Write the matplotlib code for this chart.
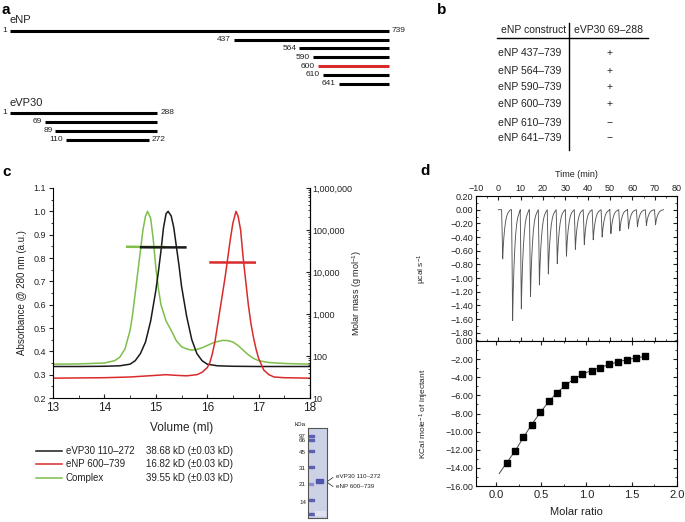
import matplotlib
matplotlib.use('Agg')
import matplotlib.pyplot as plt
from matplotlib.ticker import MultipleLocator, FuncFormatter, LogLocator, NullFormatter
from matplotlib.patches import Rectangle

plt.rcParams['font.family'] = ['Liberation Sans', 'DejaVu Sans']
plt.rcParams['mathtext.fontset'] = 'custom'
plt.rcParams['mathtext.rm'] = 'Liberation Sans'
plt.rcParams['mathtext.it'] = 'Liberation Sans:italic'
plt.rcParams['mathtext.bf'] = 'Liberation Sans:bold'

W, H = 685, 522
TXT = '#222222'
GREEN = '#7dbf4a'
RED = '#d92b2b'
BLACK = '#1a1a1a'

# ---- a: construct boundaries
enp_starts = [1, 437, 564, 590, 600, 610, 641]
enp_end = 739
evp_starts = [1, 69, 89, 110]
evp_ends = [288, 288, 288, 272]

# ---- b: binding table
b_constructs = ['eNP 437–739', 'eNP 564–739', 'eNP 590–739',
                'eNP 600–739', 'eNP 610–739', 'eNP 641–739']
b_binding = ['+', '+', '+', '+', '−', '−']

# ---- c: SEC-MALS traces (volume ml, absorbance)
black_vol = [13.0, 13.5, 14.0, 14.3, 14.5, 14.6, 14.7, 14.8, 14.9, 15.0, 15.05, 15.1,
             15.15, 15.2, 15.24, 15.3, 15.35, 15.4, 15.45, 15.5, 15.6, 15.7, 15.8,
             15.9, 16.0, 16.2, 16.5, 17.0, 18.0]
black_abs = [0.335, 0.335, 0.336, 0.338, 0.345, 0.36, 0.39, 0.44, 0.53, 0.66, 0.74, 0.83,
             0.93, 0.99, 1.0, 0.98, 0.93, 0.85, 0.77, 0.68, 0.55, 0.45, 0.39,
             0.36, 0.345, 0.338, 0.336, 0.335, 0.335]
green_vol = [13.0, 13.5, 14.0, 14.2, 14.3, 14.4, 14.5, 14.55, 14.6, 14.65, 14.7, 14.75,
             14.8, 14.84, 14.9, 14.95, 15.0, 15.05, 15.1, 15.2, 15.3, 15.4, 15.5, 15.6,
             15.7, 15.8, 15.9, 16.0, 16.1, 16.2, 16.3, 16.4, 16.5, 16.6, 16.7, 16.8,
             16.9, 17.0, 17.2, 17.5, 18.0]
green_abs = [0.345, 0.346, 0.35, 0.36, 0.375, 0.41, 0.49, 0.56, 0.65, 0.74, 0.83, 0.92,
             0.98, 1.0, 0.97, 0.88, 0.76, 0.67, 0.6, 0.53, 0.49, 0.445, 0.42, 0.41,
             0.405, 0.408, 0.415, 0.425, 0.435, 0.442, 0.447, 0.446, 0.44, 0.425, 0.405,
             0.385, 0.37, 0.36, 0.352, 0.348, 0.345]
red_vol = [13.0, 14.0, 14.5, 15.0, 15.2, 15.4, 15.6, 15.8, 15.9, 16.0, 16.05, 16.1,
           16.15, 16.2, 16.25, 16.3, 16.35, 16.4, 16.45, 16.5, 16.56, 16.6, 16.65,
           16.7, 16.75, 16.8, 16.85, 16.9, 16.95, 17.0, 17.1, 17.2, 17.3, 17.5, 18.0]
red_abs = [0.285, 0.287, 0.29, 0.297, 0.30, 0.297, 0.295, 0.30, 0.31, 0.33, 0.35, 0.39,
           0.44, 0.51, 0.58, 0.65, 0.72, 0.80, 0.88, 0.95, 1.0, 0.98, 0.92,
           0.80, 0.70, 0.60, 0.52, 0.46, 0.41, 0.37, 0.32, 0.30, 0.29, 0.287, 0.285]

# molar mass across peaks (g/mol)
green_mm_vol = [14.42, 14.6, 14.8, 15.0, 15.18]
green_mm = [39900, 39700, 39550, 39450, 39300]
black_mm_vol = [14.69, 14.9, 15.1, 15.3, 15.6]
black_mm = [38900, 38750, 38680, 38600, 38500]
red_mm_vol = [16.04, 16.3, 16.55, 16.75, 16.95]
red_mm = [16900, 16850, 16820, 16800, 16750]

c_legend = ['eVP30 110–272', 'eNP 600–739', 'Complex']
c_masses = ['38.68 kD (±0.03 kD)', '16.82 kD (±0.03 kD)', '39.55 kD (±0.03 kD)']
gel_kda = ['97', '66', '45', '31', '21', '14']

# ---- d: ITC
itc_times = [1.95, 6.4, 10.3, 14.4, 18.4, 22.4, 26.4, 30.5, 34.5, 38.5, 42.5, 46.5,
             50.4, 54.4, 58.3, 62.3, 66.3, 70.4]
itc_depths = [-0.72, -1.62, -1.45, -1.27, -1.10, -0.94, -0.79, -0.68, -0.58, -0.51,
              -0.44, -0.40, -0.35, -0.31, -0.28, -0.25, -0.23, -0.22]
peak_dt = [-0.5, -0.25, 0.0, 0.25, 0.55, 0.9, 1.3, 1.8, 2.3, 2.9, 3.5]
peak_shape = [0.0, 0.45, 1.0, 0.75, 0.55, 0.38, 0.24, 0.13, 0.07, 0.03, 0.0]

ratio = [0.118, 0.214, 0.303, 0.396, 0.489, 0.581, 0.670, 0.766, 0.859, 0.956, 1.056,
         1.148, 1.248, 1.348, 1.448, 1.548, 1.648]
heat = [-13.41, -12.12, -10.61, -9.25, -7.85, -6.67, -5.78, -4.90, -4.20, -3.65, -3.28,
        -2.98, -2.58, -2.29, -2.06, -1.88, -1.69]
fit_ratio = [0.037, 0.118, 0.214, 0.303, 0.396, 0.489, 0.581, 0.670, 0.766, 0.859, 0.956,
             1.056, 1.148, 1.248, 1.348, 1.448, 1.548, 1.648]
fit_heat = [-14.62, -13.45, -12.1, -10.65, -9.2, -7.9, -6.72, -5.75, -4.9, -4.2, -3.66,
            -3.25, -2.93, -2.6, -2.3, -2.06, -1.86, -1.70]


def box(l, t, r, b):
    return [l / W, 1 - b / H, (r - l) / W, (b - t) / H]


def fmt2(v, pos=None):
    v = round(v, 2)
    if v == 0:
        v = 0.0
    return f'{v:.2f}'.replace('-', '−')


fig = plt.figure(figsize=(W / 100, H / 100), dpi=100)

# overlay for free text
ov = fig.add_axes([0, 0, 1, 1], zorder=5)
ov.set_xlim(0, W)
ov.set_ylim(H, 0)
ov.axis('off')
ov.patch.set_alpha(0)

for lab, x, y in [('a', 2, 10), ('b', 437, 10), ('c', 2, 172), ('d', 420, 171)]:
    ov.text(x, y, lab, fontsize=11, fontweight='bold', va='center', ha='left', color='black')

# ---------------- panel a
ax_a = fig.add_axes(box(0, 0, 420, 160))
ax_a.set_xlim(1 - 10 / 0.5136, 1 + 410 / 0.5136)
ax_a.set_ylim(160, 0)
ax_a.axis('off')
ax_a.text(1, 20, 'eNP', fontsize=8, va='center', color=TXT)
for i, s in enumerate(enp_starts):
    y = 30.7 + i * 8.85
    col = RED if s == 600 else 'black'
    ax_a.plot([s, enp_end], [y, y], color=col, lw=2.2, solid_capstyle='butt')
    ax_a.annotate(str(s), (s, y), xytext=(-2, 0), textcoords='offset points',
                  ha='right', va='center', fontsize=6, color=TXT)
    if s == 1:
        ax_a.annotate(str(enp_end), (enp_end, y), xytext=(2, 0), textcoords='offset points',
                      ha='left', va='center', fontsize=6, color=TXT)
ax_a.text(1, 103, 'eVP30', fontsize=8, va='center', color=TXT)
for i, (s, e) in enumerate(zip(evp_starts, evp_ends)):
    y = 113 + i * 9.0
    ax_a.plot([s, e], [y, y], color='black', lw=2.2, solid_capstyle='butt')
    ax_a.annotate(str(s), (s, y), xytext=(-2, 0), textcoords='offset points',
                  ha='right', va='center', fontsize=6, color=TXT)
    if s in (1, 110):
        ax_a.annotate(str(e), (e, y), xytext=(2, 0), textcoords='offset points',
                      ha='left', va='center', fontsize=6, color=TXT)

# ---------------- panel b
ov.text(566, 30, 'eNP construct', fontsize=7.5, ha='right', va='center', color=TXT)
ov.text(574, 30, 'eVP30 69–288', fontsize=7.5, ha='left', va='center', color=TXT)
ov.plot([497, 648], [37.5, 37.5], color='black', lw=1.0)
ov.plot([569, 569], [23, 150], color='black', lw=1.0)
for name, bind, y in zip(b_constructs, b_binding, [53, 71, 87, 104, 123, 138]):
    ov.text(498, y, name, fontsize=7.5, ha='left', va='center', color=TXT)
    ov.text(610, y, bind, fontsize=7.5, ha='center', va='center', color=TXT)

# ---------------- panel c
ax_c = fig.add_axes(box(53, 188, 310, 398))
ax_c.plot(green_vol, green_abs, color=GREEN, lw=1.1)
ax_c.plot(black_vol, black_abs, color=BLACK, lw=1.1)
ax_c.plot(red_vol, red_abs, color=RED, lw=1.1)
ax_c.set_xlim(13, 18)
ax_c.set_ylim(0.2, 1.1)
ax_c.spines['top'].set_visible(False)
for sp in ax_c.spines.values():
    sp.set_linewidth(0.8)
ax_c.yaxis.set_major_locator(MultipleLocator(0.1))
ax_c.yaxis.set_minor_locator(MultipleLocator(0.05))
ax_c.yaxis.set_major_formatter(FuncFormatter(lambda v, p: f'{v:.1f}'))
ax_c.xaxis.set_major_locator(MultipleLocator(1))
ax_c.xaxis.set_minor_locator(MultipleLocator(0.5))
ax_c.tick_params(axis='y', which='both', direction='out', labelsize=6.5, pad=2, colors=TXT)
ax_c.tick_params(axis='y', which='major', length=3)
ax_c.tick_params(axis='y', which='minor', length=1.5)
ax_c.tick_params(axis='x', which='both', direction='in', labelsize=8.5, pad=3, colors=TXT)
ax_c.tick_params(axis='x', which='major', length=3)
ax_c.tick_params(axis='x', which='minor', length=2.5)
ax_c.set_xlabel('Volume (ml)', fontsize=8.5, color=TXT)
ax_c.xaxis.set_label_coords(0.5, -(422 - 398) / 210)
ax_c.set_ylabel('Absorbance @ 280 nm (a.u.)', fontsize=7, color=TXT)
ax_c.yaxis.set_label_coords(-(53 - 27) / 257, 0.5)

ax_r = ax_c.twinx()
ax_r.set_yscale('log')
ax_r.set_ylim(10, 1e6)
ax_r.plot(green_mm_vol, green_mm, color=GREEN, lw=1.8, solid_capstyle='butt')
ax_r.plot(black_mm_vol, black_mm, color=BLACK, lw=1.8, solid_capstyle='butt')
ax_r.plot(red_mm_vol, red_mm, color=RED, lw=1.8, solid_capstyle='butt')
for k in ['top', 'left', 'bottom']:
    ax_r.spines[k].set_visible(False)
ax_r.spines['right'].set_linewidth(0.8)
ax_r.yaxis.set_major_locator(LogLocator(base=10, numticks=10))
ax_r.yaxis.set_minor_locator(LogLocator(base=10, subs=range(2, 10), numticks=20))
ax_r.yaxis.set_minor_formatter(NullFormatter())
ax_r.yaxis.set_major_formatter(FuncFormatter(lambda v, p: f'{int(round(v)):,}'))
ax_r.tick_params(axis='y', which='both', direction='in', labelsize=6.5, pad=2, colors=TXT)
ax_r.tick_params(axis='y', which='major', length=3)
ax_r.tick_params(axis='y', which='minor', length=1.5)
ax_r.set_ylabel('Molar mass (g mol$^{-1}$)', fontsize=6.5, color=TXT)
ax_r.yaxis.set_label_coords((350 - 53) / 257, 0.5)

# legend for c
for lab, mass, col, y in zip(c_legend, c_masses, [BLACK, RED, GREEN], [451, 464, 478]):
    ov.plot([36, 62], [y, y], color=col, lw=1.1)
    ov.text(66, y, lab, fontsize=7, va='center', ha='left', color=TXT)
    ov.text(146, y, mass, fontsize=7, va='center', ha='left', color=TXT)

# gel
ax_g = fig.add_axes(box(308, 428, 327, 518))
ax_g.set_xlim(0, 1)
ax_g.set_ylim(518, 428)
ax_g.set_facecolor('#cdd1e6')
ax_g.set_xticks([])
ax_g.set_yticks([])
for sp in ax_g.spines.values():
    sp.set_color('#555555')
    sp.set_linewidth(0.8)
for yb in [436, 440, 451, 467, 500, 514]:
    ax_g.add_patch(Rectangle((0.06, yb - 1), 0.24, 2, color='#5a5fb2'))
ax_g.add_patch(Rectangle((0.06, 483), 0.2, 2, color='#8a8fcc'))
ax_g.add_patch(Rectangle((0.42, 479), 0.36, 4, color='#4f55ab'))
ax_g.add_patch(Rectangle((0.35, 511), 0.55, 4, color='#dfe2ef'))
ov.text(295, 424, 'kDa', fontsize=4.5, ha='left', va='center', color=TXT)
for lab, y in zip(gel_kda, [436, 441, 452, 468, 485, 502]):
    ov.text(306, y, lab, fontsize=4.5, ha='right', va='center', color=TXT)
ov.plot([328, 333], [481, 477.5], color=TXT, lw=0.5)
ov.plot([328, 333], [483, 486.5], color=TXT, lw=0.5)
ov.text(336, 477, 'eVP30 110–272', fontsize=4.5, ha='left', va='center', color=TXT)
ov.text(336, 486, 'eNP 600–739', fontsize=4.5, ha='left', va='center', color=TXT)

# ---------------- panel d top: thermogram
tx, ty = [0.0], [0.0]
for t0, d in zip(itc_times, itc_depths):
    for dt, f in zip(peak_dt, peak_shape):
        tx.append(t0 + dt)
        ty.append(d * f)
tx.append(74.0)
ty.append(0.0)

ax_t = fig.add_axes(box(476, 196, 677, 341))
ax_t.plot(tx, ty, color='#555555', lw=0.65)
ax_t.set_xlim(-10, 80)
ax_t.set_ylim(-1.92, 0.2)
ax_t.xaxis.set_major_locator(MultipleLocator(10))
ax_t.xaxis.set_minor_locator(MultipleLocator(5))
ax_t.yaxis.set_major_locator(MultipleLocator(0.2))
ax_t.yaxis.set_minor_locator(MultipleLocator(0.1))
ax_t.yaxis.set_major_formatter(FuncFormatter(fmt2))
ax_t.xaxis.set_major_formatter(FuncFormatter(lambda v, p: f'{int(round(v))}'.replace('-', '−')))
ax_t.tick_params(which='both', direction='in', top=True, bottom=True, left=True, right=True,
                 labeltop=True, labelbottom=False, labelsize=6.5, pad=2, colors=TXT)
ax_t.tick_params(which='major', length=3)
ax_t.tick_params(which='minor', length=1.5)
ax_t.xaxis.set_label_position('top')
ax_t.set_xlabel('Time (min)', fontsize=6.5, color=TXT)
ax_t.xaxis.set_label_coords(0.5, 1 + (196 - 177) / 145)
ax_t.set_ylabel('µcal s$^{-1}$', fontsize=6, color=TXT)
ax_t.yaxis.set_label_coords(-(476 - 429) / 201, 0.5)
for sp in ax_t.spines.values():
    sp.set_linewidth(0.8)

# ---------------- panel d bottom: binding isotherm
ax_b = fig.add_axes(box(476, 341, 677, 486))
ax_b.plot(fit_ratio, fit_heat, color='#444444', lw=0.7)
ax_b.plot(ratio, heat, 's', color='black', ms=4.2)
ax_b.set_xlim(-0.22, 2.0)
ax_b.set_ylim(-16, 0)
ax_b.xaxis.set_major_locator(MultipleLocator(0.5))
ax_b.xaxis.set_minor_locator(MultipleLocator(0.25))
ax_b.yaxis.set_major_locator(MultipleLocator(2))
ax_b.yaxis.set_minor_locator(MultipleLocator(1))
ax_b.yaxis.set_major_formatter(FuncFormatter(fmt2))
ax_b.xaxis.set_major_formatter(FuncFormatter(lambda v, p: f'{v:.1f}'))
ax_b.tick_params(which='both', direction='in', top=True, bottom=True, left=True, right=True,
                 colors=TXT, pad=2)
ax_b.tick_params(axis='y', labelsize=6.5)
ax_b.tick_params(axis='x', labelsize=8, pad=3)
ax_b.tick_params(which='major', length=3)
ax_b.tick_params(which='minor', length=1.5)
ax_b.set_xlabel('Molar ratio', fontsize=8, color=TXT)
ax_b.xaxis.set_label_coords(0.5, -(507 - 486) / 145)
ax_b.set_ylabel('KCal mole$^{-1}$ of injectant', fontsize=6, color=TXT)
ax_b.yaxis.set_label_coords(-(476 - 431) / 201, 0.5)
for sp in ax_b.spines.values():
    sp.set_linewidth(0.8)

fig.savefig('out.png', dpi=100)
